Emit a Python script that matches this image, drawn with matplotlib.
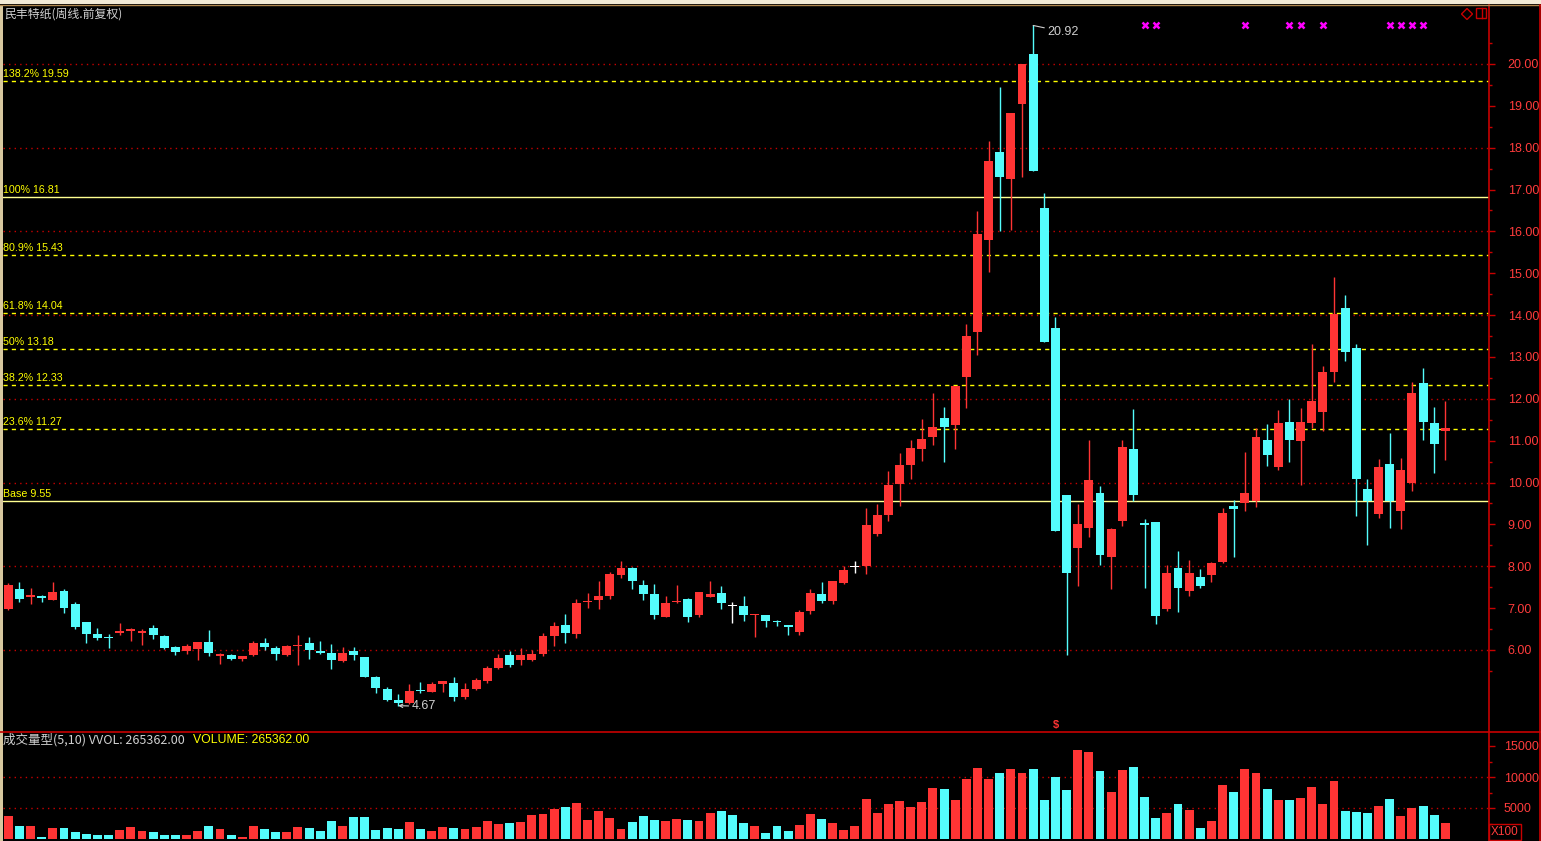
import matplotlib
matplotlib.use("Agg")
import matplotlib.pyplot as plt
import matplotlib.transforms as mtransforms
from matplotlib.patches import Rectangle, Polygon
from matplotlib.lines import Line2D

plt.rcParams['font.family'] = ['Liberation Sans', 'Noto Sans CJK SC', 'DejaVu Sans']

# ---------------- data ----------------
title = "民丰特纸(周线.前复权)"
opens = [6.98, 7.46, 7.28, 7.30, 7.19, 7.41, 7.10, 6.67, 6.38, 6.30,
         6.41, 6.47, 6.42, 6.53, 6.33, 6.07, 5.98, 6.02, 6.19, 5.87,
         5.88, 5.79, 5.88, 6.17, 6.05, 5.88, 6.10, 6.17, 5.96, 5.93,
         5.74, 5.98, 5.83, 5.36, 5.07, 4.81, 4.74, 5.05, 5.00, 5.19,
         5.21, 4.88, 5.07, 5.26, 5.57, 5.88, 5.76, 5.76, 5.90, 6.33,
         6.60, 6.38, 7.14, 7.19, 7.29, 7.79, 7.96, 7.55, 7.34, 6.79,
         7.15, 7.22, 6.84, 7.27, 7.36, 7.07, 7.05, 6.84, 6.84, 6.69,
         6.60, 6.44, 6.93, 7.34, 7.18, 7.60, 7.99, 8.01, 8.76, 9.23,
         9.97, 10.43, 10.81, 11.09, 11.54, 11.38, 12.51, 13.60, 15.80, 17.90,
         17.25, 19.04, 20.24, 16.56, 13.70, 9.71, 8.43, 8.92, 9.76, 8.21,
         9.07, 10.81, 9.02, 9.05, 6.97, 7.95, 7.42, 7.75, 7.78, 8.11,
         9.45, 9.50, 9.56, 11.02, 10.36, 11.45, 10.99, 11.42, 11.69, 12.65,
         14.17, 13.21, 9.85, 9.26, 10.44, 9.33, 10.00, 12.38, 11.42, 11.22]
highs = [7.59, 7.62, 7.48, 7.32, 7.62, 7.46, 7.15, 6.67, 6.53, 6.38,
         6.65, 6.53, 6.50, 6.60, 6.36, 6.10, 6.14, 6.19, 6.48, 5.93,
         5.90, 5.86, 6.22, 6.29, 6.10, 6.12, 6.36, 6.31, 6.22, 6.14,
         6.07, 6.07, 5.83, 5.38, 5.12, 4.95, 5.19, 5.24, 5.24, 5.27,
         5.36, 5.21, 5.33, 5.62, 5.90, 5.98, 6.05, 6.00, 6.41, 6.67,
         6.86, 7.22, 7.36, 7.65, 7.86, 8.13, 7.98, 7.67, 7.58, 7.29,
         7.55, 7.24, 7.39, 7.65, 7.53, 7.15, 7.29, 6.87, 6.84, 6.72,
         6.60, 6.96, 7.46, 7.63, 7.65, 8.01, 8.13, 9.40, 9.49, 10.28,
         10.71, 11.02, 11.52, 12.15, 11.81, 12.31, 13.79, 16.49, 18.16, 19.46,
         18.83, 19.99, 20.92, 16.92, 13.96, 9.71, 9.48, 11.01, 9.91, 8.92,
         11.01, 11.75, 9.12, 9.05, 8.02, 8.36, 8.14, 7.93, 8.11, 9.40,
         9.59, 10.72, 11.30, 11.40, 11.73, 12.00, 11.78, 13.31, 12.78, 14.92,
         14.48, 13.31, 10.09, 10.56, 11.18, 10.59, 12.40, 12.74, 11.81, 11.95]
lows = [6.95, 7.15, 7.10, 7.15, 7.19, 6.88, 6.50, 6.17, 6.24, 6.05,
        6.36, 6.22, 6.12, 6.26, 6.02, 5.88, 5.90, 5.76, 5.86, 5.67,
        5.76, 5.74, 5.86, 6.00, 5.76, 5.86, 5.64, 5.79, 5.90, 5.55,
        5.71, 5.76, 5.36, 4.97, 4.78, 4.67, 4.71, 4.97, 5.00, 5.00,
        4.78, 4.83, 5.04, 5.21, 5.55, 5.60, 5.64, 5.74, 5.86, 6.10,
        6.17, 6.29, 7.00, 6.98, 7.22, 7.72, 7.46, 7.19, 6.74, 6.79,
        7.12, 6.67, 6.79, 7.27, 6.98, 6.65, 6.69, 6.32, 6.55, 6.58,
        6.37, 6.35, 6.87, 7.13, 7.10, 7.58, 7.85, 7.82, 8.73, 9.09,
        9.45, 10.09, 10.52, 10.90, 10.49, 10.81, 11.79, 13.05, 15.03, 16.01,
        16.04, 17.31, 17.45, 13.36, 8.84, 5.88, 7.54, 8.71, 8.02, 7.45,
        8.97, 9.57, 7.48, 6.62, 6.93, 6.91, 7.29, 7.48, 7.62, 8.09,
        8.23, 9.31, 9.42, 10.40, 10.31, 10.48, 9.93, 11.31, 11.22, 12.41,
        12.91, 9.21, 8.52, 9.16, 8.92, 8.90, 9.81, 11.02, 10.24, 10.55]
closes = [7.55, 7.22, 7.30, 7.25, 7.39, 7.00, 6.55, 6.38, 6.29, 6.28,
          6.45, 6.49, 6.44, 6.36, 6.05, 5.95, 6.10, 6.19, 5.93, 5.89,
          5.79, 5.86, 6.17, 6.07, 5.90, 6.10, 6.12, 6.00, 5.94, 5.76,
          5.93, 5.88, 5.36, 5.09, 4.81, 4.74, 5.02, 5.03, 5.19, 5.26,
          4.88, 5.07, 5.28, 5.57, 5.81, 5.64, 5.88, 5.90, 6.33, 6.57,
          6.41, 7.12, 7.16, 7.29, 7.82, 7.96, 7.65, 7.34, 6.84, 7.12,
          7.18, 6.79, 7.39, 7.34, 7.12, 7.07, 6.84, 6.86, 6.70, 6.67,
          6.55, 6.91, 7.37, 7.18, 7.65, 7.91, 7.99, 8.99, 9.23, 9.95,
          10.43, 10.83, 11.04, 11.33, 11.33, 12.31, 13.51, 15.94, 17.68, 17.30,
          18.83, 19.99, 17.45, 13.36, 8.84, 7.84, 9.02, 10.07, 8.28, 8.88,
          10.86, 9.70, 9.00, 6.81, 7.85, 7.48, 7.83, 7.52, 8.09, 9.28,
          9.37, 9.76, 11.09, 10.67, 11.42, 11.02, 11.45, 11.95, 12.64, 14.03,
          13.13, 10.09, 9.56, 10.37, 9.56, 10.30, 12.14, 11.45, 10.93, 11.30]
volumes = [3690, 2090, 2090, 320, 1770, 1770, 1120, 800, 640, 640,
           1440, 1930, 1280, 1120, 640, 640, 640, 1280, 2090, 1600,
           640, 320, 2090, 1600, 1120, 1120, 1930, 1770, 1280, 2890,
           2090, 3530, 3530, 1440, 1770, 1600, 2730, 1600, 1280, 1930,
           1770, 1600, 1930, 2890, 2410, 2570, 2730, 3850, 4010, 4815,
           5140, 5780, 3050, 4490, 3370, 1600, 2730, 3690, 3050, 2890,
           3210, 3050, 2890, 4170, 4490, 3850, 2570, 2090, 960, 2090,
           1280, 2250, 4010, 3210, 2570, 1440, 2090, 6420, 4170, 5620,
           6100, 5140, 5940, 8190, 8030, 6260, 9630, 11400, 9630, 10590,
           11240, 10590, 11240, 6260, 9950, 7860, 14280, 13960, 10910, 7540,
           11070, 11560, 6740, 3370, 4170, 5620, 4650, 1770, 2890, 8670,
           7540, 11240, 10590, 8030, 6260, 6260, 6580, 8350, 5620, 9310,
           4490, 4330, 4170, 5300, 6420, 3690, 4980, 5300, 3850, 2654]
fib_levels = [19.59, 16.81, 15.43, 14.04, 13.18, 12.33, 11.27, 9.55]
fib_names = ["138.2%", "100%", "80.9%", "61.8%", "50%", "38.2%", "23.6%", "Base"]
fib_solid = [False, True, False, False, False, False, False, True]
signal_idx = [102, 103, 111, 115, 116, 118, 124, 125, 126, 127]
price_ticks = list(range(6, 21))
vol_ticks = [5000, 10000, 15000]
last_vol_text = "265362.00"

# ---------------- style ----------------
W, H = 1541, 841
RED = '#ff3434'
CYAN = '#54fcfc'
AXRED = '#c80000'
LBLRED = '#ff3c3c'
GREY = '#d0d0d0'
YEL = '#ffff00'

fig = plt.figure(figsize=(W / 100, H / 100), dpi=100, facecolor='black')


def fx(px):
    return px / W


def fy(py):
    return 1 - py / H


left_px, right_px = 3, 1489
ax = fig.add_axes([fx(left_px), fy(731), fx(right_px - left_px), (731 - 5) / H], facecolor='black')
axv = fig.add_axes([fx(left_px), 0, fx(right_px - left_px), (841 - 732) / H], facecolor='black')

n = len(opens)
xs = list(range(n))
x0 = (left_px - 8.3) / 11.14
x1 = (right_px - 8.3) / 11.14
ax.set_xlim(x0, x1)
axv.set_xlim(x0, x1)
ax.set_ylim(6 - (731 - 650) / 41.86, 6 + (650 - 5) / 41.86)
axv.set_ylim(-(841 - 839) / 0.0062, (839 - 732) / 0.0062)

# colours
cols = []
vcols = []
for i in range(n):
    if closes[i] > opens[i]:
        c = RED
        vc = RED
    elif closes[i] < opens[i]:
        c = CYAN
        vc = CYAN
    else:
        c = 'white'
        vc = RED if (i > 0 and closes[i] >= closes[i - 1]) else CYAN
    cols.append(c)
    vcols.append(vc)

# grid lines
for p in range(6, 21, 2):
    ax.axhline(p, color=AXRED, lw=1, ls=(0, (1, 3)), zorder=1)
for v in (5000, 10000):
    axv.axhline(v, color=AXRED, lw=1, ls=(0, (1, 3)), zorder=1)

# fib lines
for lv, nm, solid in zip(fib_levels, fib_names, fib_solid):
    if solid:
        ax.axhline(lv, color='#ffff90', lw=1.0, zorder=2)
    else:
        ax.axhline(lv, color=YEL, lw=1.0, ls=(0, (3, 3)), zorder=2)
    ax.annotate(f"{nm} {lv:.2f}", xy=(0, lv), xycoords=('axes fraction', 'data'),
                xytext=(0, 1.5), textcoords='offset points', ha='left', va='bottom',
                color=YEL, fontsize=7.7, zorder=5)

# candles
ax.vlines(xs, lows, highs, colors=cols, lw=1, zorder=3)
bott = []
hts = []
for o, c in zip(opens, closes):
    lo, hi = min(o, c), max(o, c)
    if hi - lo < 0.03:
        mid = (hi + lo) / 2
        lo, hi = mid - 0.015, mid + 0.015
    bott.append(lo)
    hts.append(hi - lo)
ax.bar(xs, hts, bottom=bott, width=0.8, color=cols, linewidth=0, zorder=4)

# volume bars
axv.bar(xs, volumes, width=0.8, color=vcols, linewidth=0, zorder=3)

# axes styling
for a, pad in ((ax, 9.5), (axv, 6.5)):
    for s in ('left', 'top', 'bottom'):
        a.spines[s].set_visible(False)
    a.spines['right'].set_color(AXRED)
    a.spines['right'].set_linewidth(1.2)
    a.set_xticks([])
    a.yaxis.tick_right()
    a.tick_params(axis='y', which='major', colors=AXRED, labelcolor=LBLRED,
                  length=4, width=1, pad=pad, labelsize=9)
    a.tick_params(axis='y', which='minor', colors=AXRED, length=2.5, width=1)

ax.set_yticks(price_ticks)
ax.set_yticklabels([f"{t:.2f}" for t in price_ticks])
ax.set_yticks([t + 0.5 for t in price_ticks[:-1]] + [5.5, 20.5], minor=True)
axv.set_yticks(vol_ticks)
axv.set_yticklabels([str(v) for v in vol_ticks])
axv.set_yticks([2500, 7500, 12500], minor=True)

# markers on top
trans = mtransforms.blended_transform_factory(ax.transData, ax.transAxes)
ax.plot(signal_idx, [1 - 20 / 726] * len(signal_idx), ls='none', marker='x',
        ms=4, mew=1.8, color='#ff00ff', transform=trans, clip_on=False, zorder=6)

# high / low annotations
ax.annotate("20.92", xy=(92, 20.92), xytext=(10, -4.5), textcoords='offset points',
            ha='left', va='center', color=GREY, fontsize=9,
            arrowprops=dict(arrowstyle='-', color=GREY, lw=0.8, shrinkA=0, shrinkB=0))
ax.annotate("4.67", xy=(35, 4.67), xytext=(9.5, -0.5), textcoords='offset points',
            ha='left', va='center', color=GREY, fontsize=9,
            arrowprops=dict(arrowstyle='->', color=GREY, lw=0.8, shrinkA=0, shrinkB=0,
                            mutation_scale=6))

# "$" marker
ax.text(94, 0.0015, "$", transform=trans, color=RED, fontsize=8, fontweight='bold',
        ha='center', va='bottom', zorder=6)

# titles
fig.text(fx(4), fy(14), title, color=GREY, fontsize=8.6, ha='left', va='center',
         family=['Noto Sans CJK SC', 'Liberation Sans'])
fig.text(fx(3), fy(740), "成交量型(5,10) VVOL: " + last_vol_text, color=GREY, fontsize=9,
         ha='left', va='center', family=['Noto Sans CJK SC', 'Liberation Sans'])
fig.text(fx(193), fy(740), "VOLUME: " + last_vol_text, color=YEL, fontsize=8.8,
         ha='left', va='center')

# frame decorations
fig.add_artist(Rectangle((0, fy(4)), 1, 4 / H, transform=fig.transFigure,
                         facecolor='#f2ead6', edgecolor='none'))
fig.add_artist(Line2D([0, 1], [fy(4.5), fy(4.5)], transform=fig.transFigure,
                      color='#b08850', lw=1))
fig.add_artist(Rectangle((0, 0), fx(2.5), fy(4.5), transform=fig.transFigure,
                         facecolor='#d8c8a0', edgecolor='none'))
fig.add_artist(Line2D([0, 1], [fy(731.5), fy(731.5)], transform=fig.transFigure,
                      color=AXRED, lw=1.2))
fig.add_artist(Line2D([fx(1540), fx(1540)], [0, fy(5)], transform=fig.transFigure,
                      color=AXRED, lw=1.2))
# X100 box
fig.add_artist(Rectangle((fx(1489), fy(840)), fx(32), 16 / H, transform=fig.transFigure,
                         facecolor='none', edgecolor=AXRED, lw=1))
fig.text(fx(1505), fy(832), "X100", color=LBLRED, fontsize=8.5, ha='center', va='center')
# icons top right
fig.add_artist(Polygon([(fx(1467), fy(8.5)), (fx(1472.5), fy(14)), (fx(1467), fy(19.5)),
                        (fx(1461.5), fy(14))], closed=True, transform=fig.transFigure,
                       facecolor='none', edgecolor=AXRED, lw=1))
fig.add_artist(Rectangle((fx(1476), fy(18)), fx(10), 10 / H, transform=fig.transFigure,
                         facecolor='none', edgecolor=AXRED, lw=1))
fig.add_artist(Line2D([fx(1482), fx(1482)], [fy(18), fy(8)], transform=fig.transFigure,
                      color=AXRED, lw=1))

fig.savefig("out.png", dpi=100, facecolor='black')
